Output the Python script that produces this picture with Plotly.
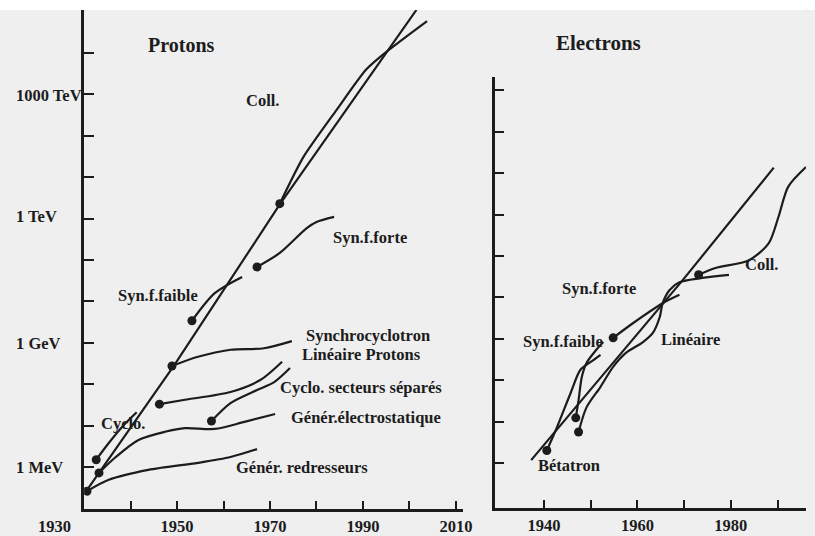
import plotly.graph_objects as go

# The page body keeps its default 8px margin, so the figure is drawn 8px smaller
# and every reference pixel position is offset by that margin.
OFF = 8
W, H = 815 - OFF, 536 - OFF

# ---------------- Protons panel (years, energy in eV) ----------------
p_env_years = [1930.6, 1949.4, 1972.1, 2001.5]
p_env_energy = [2.75e5, 2.9e8, 2.2e12, 1.1e17]

p_redr_years = [1930.6, 1935.3, 1943.8, 1954.5, 1961.5, 1967.2]
p_redr_energy = [2.6e5, 4.9e5, 8.5e5, 1.26e6, 1.74e6, 2.7e6]

p_elec_years = [1933.2, 1936.8, 1941.7, 1947.4, 1951.7, 1958.1, 1964.5, 1971.1]
p_elec_energy = [7.2e5, 1.74e6, 4.5e6, 7.1e6, 8.7e6, 8.3e6, 1.23e7, 1.9e7]

p_cyclo_years = [1932.6, 1935.3, 1938.5, 1941.3]
p_cyclo_energy = [1.5e6, 3.8e6, 1.02e7, 2.1e7]

p_lin_years = [1946.2, 1951.7, 1961.5, 1967.9, 1972.6]
p_lin_energy = [3.3e7, 4.2e7, 6.5e7, 1.26e8, 3.5e8]

p_synchro_years = [1948.9, 1954.5, 1961.5, 1968.7, 1974.7]
p_synchro_energy = [2.75e8, 4.6e8, 6.8e8, 7.4e8, 1.1e9]

p_sect_years = [1957.4, 1961.5, 1967.2, 1970.9, 1974.3]
p_sect_energy = [1.29e7, 3.5e7, 7.2e7, 1.12e8, 2.45e8]

p_faible_years = [1953.2, 1958.1, 1964.0]
p_faible_energy = [3.4e9, 1.58e10, 3.9e10]

p_forte_years = [1967.2, 1972.1, 1977.9, 1980.0, 1983.8]
p_forte_energy = [6.8e10, 1.48e11, 5.9e11, 8.3e11, 1.1e12]

p_coll_years = [1972.1, 1977.2, 1984.3, 1990.6, 1995.5, 2003.8]
p_coll_energy = [2.3e12, 3.1e13, 4.2e14, 3.9e15, 1.17e16, 5.9e16]

# ---------------- Electrons panel ----------------
e_env_years = [1937.25, 1969.7, 1989.2]
e_env_energy = [1.17e6, 2.6e10, 1.35e13]

e_beta_years = [1940.6, 1942.8, 1945.7, 1947.8, 1950.0, 1952.1]
e_beta_energy = [2.0e6, 7.4e6, 4.9e7, 1.78e8, 2.75e8, 4.1e8]

e_faible_years = [1946.8, 1947.4, 1948.1, 1949.1, 1951.2, 1952.7]
e_faible_energy = [1.23e7, 3.3e7, 1.2e8, 2.6e8, 5.4e8, 8.3e8]

e_lin_years = [1947.4, 1949.1, 1952.1, 1954.8, 1957.6, 1961.2, 1963.3, 1964.8, 1965.4, 1966.9, 1969.0, 1979.6]
e_lin_energy = [5.6e6, 2.2e7, 6.9e7, 2.1e8, 4.6e8, 8.3e8, 1.38e9, 3.4e9, 7.2e9, 1.5e10, 2.3e10, 3.5e10]

e_forte_years = [1954.8, 1959.1, 1965.4, 1969.0]
e_forte_energy = [1.05e9, 2.4e9, 7.2e9, 1.15e10]

e_coll_years = [1973.1, 1976.7, 1983.9, 1988.1, 1990.2, 1992.3, 1996.1]
e_coll_energy = [3.5e10, 5.1e10, 7.9e10, 2.0e11, 8.7e11, 4.7e12, 1.4e13]

# tick labels
p_ytick_text = ["1 MeV", "1 GeV", "1 TeV", "1000 TeV"]
p_xtick_vals = [1940, 1950, 1960, 1970, 1980, 1990, 2000, 2010]
p_xtick_text = ["", "1950", "", "1970", "", "1990", "", "2010"]
e_xtick_vals = [1940, 1950, 1960, 1970, 1980, 1990]
e_xtick_text = ["1940", "", "1960", "", "1980", ""]

INK = "#1c1c1c"
BG = "#efefef"
FONT = "Liberation Serif"


def fx(x):
    return (x - OFF) / W


def fy(y):
    return 1 - (y - OFF) / H


fig = go.Figure()


def curve(xa, ya, years, energy, dot=True, shape="spline", smoothing=0.8):
    fig.add_trace(go.Scatter(
        x=years, y=energy, xaxis=xa, yaxis=ya, mode="lines",
        line=dict(color=INK, width=2.2, shape=shape, smoothing=smoothing),
        hoverinfo="skip", showlegend=False))
    if dot:
        fig.add_trace(go.Scatter(
            x=years[:1], y=energy[:1], xaxis=xa, yaxis=ya, mode="markers",
            marker=dict(color=INK, size=9), hoverinfo="skip", showlegend=False))


# Protons
curve("x", "y", p_env_years, p_env_energy, dot=False, shape="linear")
curve("x", "y", p_redr_years, p_redr_energy)
curve("x", "y", p_elec_years, p_elec_energy)
curve("x", "y", p_cyclo_years, p_cyclo_energy)
curve("x", "y", p_lin_years, p_lin_energy)
curve("x", "y", p_synchro_years, p_synchro_energy)
curve("x", "y", p_sect_years, p_sect_energy)
curve("x", "y", p_faible_years, p_faible_energy)
curve("x", "y", p_forte_years, p_forte_energy)
curve("x", "y", p_coll_years, p_coll_energy, smoothing=0.6)

# Electrons
curve("x2", "y2", e_env_years, e_env_energy, dot=False, shape="linear")
curve("x2", "y2", e_beta_years, e_beta_energy)
curve("x2", "y2", e_faible_years, e_faible_energy)
curve("x2", "y2", e_lin_years, e_lin_energy)
curve("x2", "y2", e_forte_years, e_forte_energy)
curve("x2", "y2", e_coll_years, e_coll_energy)

axis_common = dict(showline=True, linewidth=2.5, linecolor=INK, showgrid=False,
                   zeroline=False, ticks="inside", tickcolor=INK, tickwidth=2)
tick_font = dict(family=FONT, size=16.5, color=INK, weight="bold")

fig.update_layout(
    width=W, height=H, margin=dict(l=0, r=0, t=0, b=0),
    paper_bgcolor=BG, plot_bgcolor="rgba(0,0,0,0)",
    showlegend=False,
    xaxis=dict(axis_common, domain=[fx(85), fx(468)], range=[1930, 2011.5],
               ticklen=8, tickvals=p_xtick_vals, ticktext=p_xtick_text,
               tickfont=tick_font, anchor="y"),
    yaxis=dict(axis_common, domain=[fy(509), fy(10)], type="log",
               range=[4.985, 17.04], ticklen=10,
               tickvals=[10.0 ** k for k in range(6, 17)], showticklabels=False, anchor="x"),
    xaxis2=dict(axis_common, domain=[fx(500), 1.0], range=[1929.4, 1996.1],
                ticklen=8, tickvals=e_xtick_vals, ticktext=e_xtick_text,
                tickfont=tick_font, anchor="y2"),
    yaxis2=dict(axis_common, domain=[fy(508), fy(77)], type="log",
                range=[4.913, 15.32], ticklen=10,
                tickvals=[10.0 ** k for k in range(6, 16)], showticklabels=False, anchor="x2"),
)

# white band at the very top of the scan (continues the white page margin)
fig.add_shape(type="rect", xref="paper", yref="paper", x0=0, x1=1, y0=fy(10), y1=1,
              fillcolor="white", line=dict(width=0), layer="below")


def label(text, x, y, size=16.5, anchor="center"):
    fig.add_annotation(text=text, x=fx(x), y=fy(y), xref="paper", yref="paper",
                       xanchor=anchor, yanchor="middle", showarrow=False,
                       font=dict(family=FONT, size=size, color=INK, weight="bold"))


# y tick labels (left aligned, as in the original)
for txt, ypx in zip(p_ytick_text, [467, 343, 217, 95]):
    label(txt, 14, ypx, anchor="left")
label("1930", 55, 526)

# titles
label("Protons", 183, 45, size=20)
label("Electrons", 605, 43, size=21)

# proton labels
label("Coll.", 265, 100)
label("Syn.f.forte", 374, 238)
label("Syn.f.faible", 160, 295)
label("Synchrocyclotron", 372, 335)
label("Linéaire Protons", 365, 354)
label("Cyclo. secteurs séparés", 365, 387)
label("Génér.électrostatique", 370, 417)
label("Génér. redresseurs", 305, 467)
label("Cyclo.", 124, 423)

# electron labels
label("Coll.", 770, 264)
label("Syn.f.forte", 606, 288)
label("Syn.f.faible", 569, 341)
label("Linéaire", 698, 339)
label("Bétatron", 575, 465)

fig.write_html(
    "out.html",
    config={"displayModeBar": False},
    post_script=("document.documentElement.style.background="
                 "'linear-gradient(to bottom, #ffffff 0px, #ffffff 10px, %s 10px) no-repeat, %s';"
                 % (BG, BG)),
)
